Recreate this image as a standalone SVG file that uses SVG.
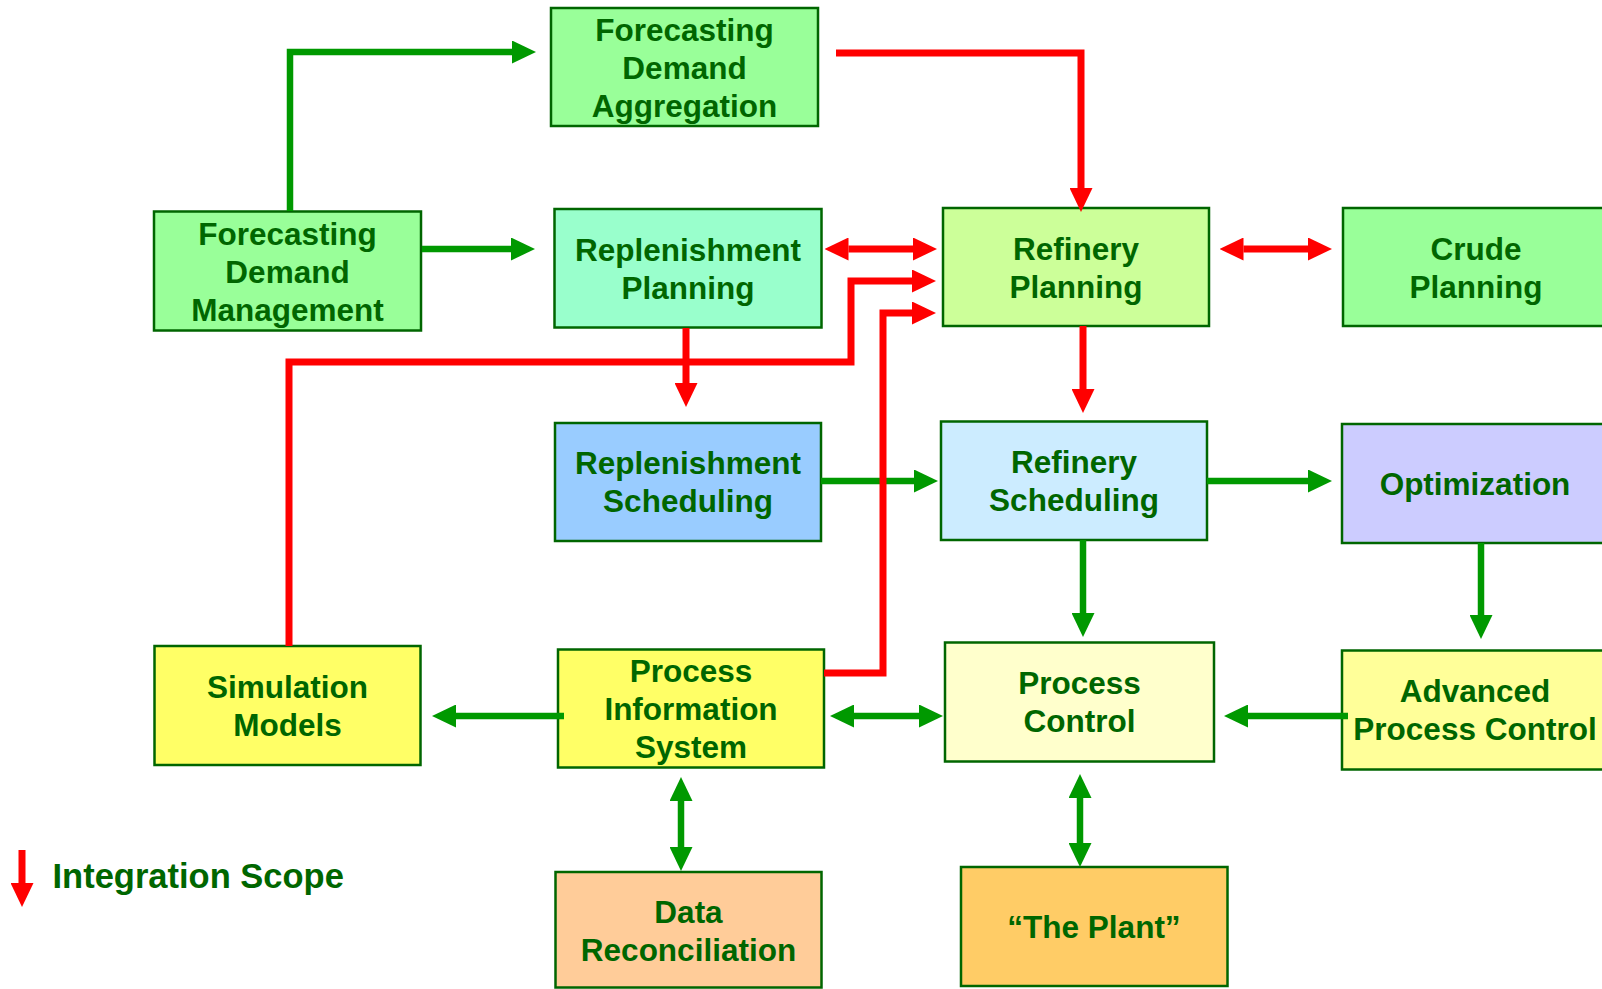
<svg xmlns="http://www.w3.org/2000/svg" width="1602" height="989" viewBox="0 0 1602 989">
  <style>
    .box { stroke: #006600; stroke-width: 2.5; }
    .lbl { font-family: "Liberation Sans", Arial, Helvetica, sans-serif; font-weight: bold; font-size: 31.5px; fill: #006600; text-anchor: middle; }
    .legend { font-family: "Liberation Sans", Arial, Helvetica, sans-serif; font-weight: bold; font-size: 34.5px; fill: #006600; }
    .g { fill: none; stroke: #009900; stroke-width: 6.5; stroke-linejoin: miter; }
    .r { fill: none; stroke: #FF0000; stroke-width: 7; stroke-linejoin: miter; }
  </style>
  <defs>
    <marker id="headG" viewBox="0 0 24 23" refX="0" refY="11.5" markerWidth="24" markerHeight="23" markerUnits="userSpaceOnUse" orient="auto-start-reverse">
      <path d="M0,0 L24,11.5 L0,23 Z" fill="#009900"/>
    </marker>
    <marker id="headR" viewBox="0 0 24 23" refX="0" refY="11.5" markerWidth="24" markerHeight="23" markerUnits="userSpaceOnUse" orient="auto-start-reverse">
      <path d="M0,0 L24,11.5 L0,23 Z" fill="#FF0000"/>
    </marker>
  </defs>

  <rect width="1602" height="989" fill="#FFFFFF"/>

  <!-- nodes -->
  <g id="forecasting-demand-aggregation">
    <rect class="box" x="551" y="8" width="267" height="118" fill="#99FF99"/>
    <text class="lbl" x="684.5" y="40.5">Forecasting</text>
    <text class="lbl" x="684.5" y="78.5">Demand</text>
    <text class="lbl" x="684.5" y="116.5">Aggregation</text>
  </g>
  <g id="forecasting-demand-management">
    <rect class="box" x="154" y="211.5" width="267" height="119" fill="#99FF99"/>
    <text class="lbl" x="287.5" y="244.5">Forecasting</text>
    <text class="lbl" x="287.5" y="282.5">Demand</text>
    <text class="lbl" x="287.5" y="320.5">Management</text>
  </g>
  <g id="replenishment-planning">
    <rect class="box" x="554.5" y="209" width="267" height="118.5" fill="#99FFCC"/>
    <text class="lbl" x="688" y="260.5">Replenishment</text>
    <text class="lbl" x="688" y="298.5">Planning</text>
  </g>
  <g id="refinery-planning">
    <rect class="box" x="943" y="208" width="266" height="118" fill="#CCFF99"/>
    <text class="lbl" x="1076" y="259.5">Refinery</text>
    <text class="lbl" x="1076" y="297.5">Planning</text>
  </g>
  <g id="crude-planning">
    <rect class="box" x="1343" y="208" width="266" height="118" fill="#99FF99"/>
    <text class="lbl" x="1476" y="259.5">Crude</text>
    <text class="lbl" x="1476" y="297.5">Planning</text>
  </g>
  <g id="replenishment-scheduling">
    <rect class="box" x="555" y="423" width="266" height="118" fill="#99CCFF"/>
    <text class="lbl" x="688" y="474">Replenishment</text>
    <text class="lbl" x="688" y="512">Scheduling</text>
  </g>
  <g id="refinery-scheduling">
    <rect class="box" x="941" y="421.5" width="266" height="118.5" fill="#CCECFF"/>
    <text class="lbl" x="1074" y="473">Refinery</text>
    <text class="lbl" x="1074" y="511">Scheduling</text>
  </g>
  <g id="optimization">
    <rect class="box" x="1342" y="424" width="266" height="119" fill="#CCCCFF"/>
    <text class="lbl" x="1475" y="494.5">Optimization</text>
  </g>
  <g id="simulation-models">
    <rect class="box" x="154.5" y="646" width="266" height="119" fill="#FFFF66"/>
    <text class="lbl" x="287.5" y="697.5">Simulation</text>
    <text class="lbl" x="287.5" y="735.5">Models</text>
  </g>
  <g id="process-information-system">
    <rect class="box" x="558" y="649.5" width="266" height="118" fill="#FFFF66"/>
    <text class="lbl" x="691" y="681.5">Process</text>
    <text class="lbl" x="691" y="719.5">Information</text>
    <text class="lbl" x="691" y="757.5">System</text>
  </g>
  <g id="process-control">
    <rect class="box" x="945" y="642.5" width="269" height="119" fill="#FFFFCC"/>
    <text class="lbl" x="1079.5" y="694">Process</text>
    <text class="lbl" x="1079.5" y="732">Control</text>
  </g>
  <g id="advanced-process-control">
    <rect class="box" x="1342" y="650.5" width="266" height="119" fill="#FFFF99"/>
    <text class="lbl" x="1475" y="702">Advanced</text>
    <text class="lbl" x="1475" y="740">Process Control</text>
  </g>
  <g id="data-reconciliation">
    <rect class="box" x="555.5" y="872" width="266" height="115.5" fill="#FFCC99"/>
    <text class="lbl" x="688.5" y="922.5">Data</text>
    <text class="lbl" x="688.5" y="960.5">Reconciliation</text>
  </g>
  <g id="the-plant">
    <rect class="box" x="961" y="867" width="266.5" height="119" fill="#FFCC66"/>
    <text class="lbl" x="1094" y="938">“The Plant”</text>
  </g>

  <!-- connectors -->
  <g id="connectors">
    <!-- information flows (green) -->
    <path class="g" d="M290,211 V52 H512" marker-end="url(#headG)"/>
    <path class="g" d="M422,249 H511" marker-end="url(#headG)"/>
    <path class="g" d="M821,481 H914" marker-end="url(#headG)"/>
    <path class="g" d="M1207,481 H1308" marker-end="url(#headG)"/>
    <path class="g" d="M1083,540 V613" marker-end="url(#headG)"/>
    <path class="g" d="M1481,543 V615" marker-end="url(#headG)"/>
    <path class="g" d="M1348,716 H1248" marker-end="url(#headG)"/>
    <path class="g" d="M854,716 H919" marker-start="url(#headG)" marker-end="url(#headG)"/>
    <path class="g" d="M564,716 H456" marker-end="url(#headG)"/>
    <path class="g" d="M681,801 V847" marker-start="url(#headG)" marker-end="url(#headG)"/>
    <path class="g" d="M1080,798 V843" marker-start="url(#headG)" marker-end="url(#headG)"/>

    <!-- integration scope (red) -->
    <path class="r" d="M836,53 H1081 V188" marker-end="url(#headR)"/>
    <path class="r" d="M848.5,249 H913" marker-start="url(#headR)" marker-end="url(#headR)"/>
    <path class="r" d="M1243.5,249 H1308" marker-start="url(#headR)" marker-end="url(#headR)"/>
    <path class="r" d="M289,646 V362 H851 V281 H912" marker-end="url(#headR)"/>
    <path class="r" d="M824,673 H883 V313 H912" marker-end="url(#headR)"/>
    <path class="r" d="M686,328 V383" marker-end="url(#headR)"/>
    <path class="r" d="M1083,326 V389" marker-end="url(#headR)"/>
  </g>

  <!-- legend -->
  <g id="legend">
    <path class="r" d="M22,850 V883" marker-end="url(#headR)"/>
    <text class="legend" x="52.5" y="888">Integration Scope</text>
  </g>
</svg>
